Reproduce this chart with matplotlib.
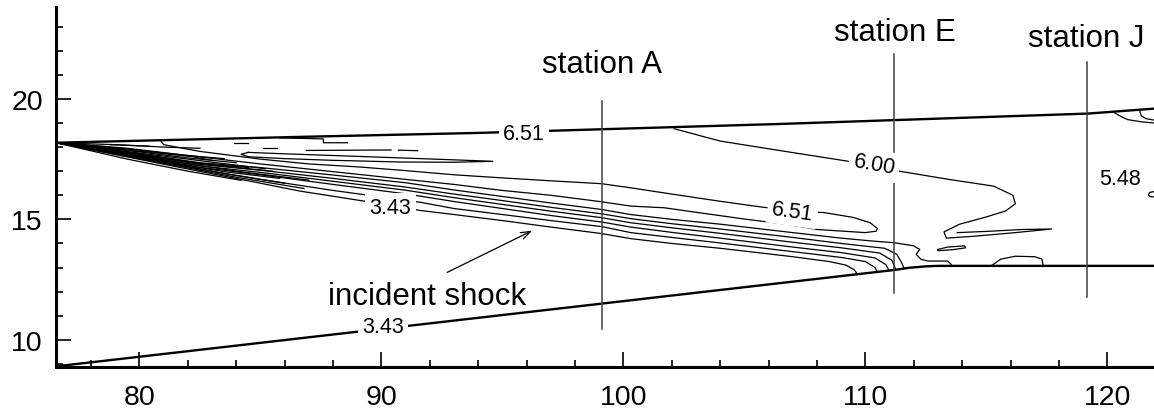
import matplotlib
matplotlib.use('Agg')
import matplotlib.pyplot as plt
from matplotlib.ticker import MultipleLocator

plt.rcParams['font.family'] = ['Liberation Sans', 'DejaVu Sans']

# leading edge of the cowl, every shock line starts here
le = (76.55, 18.18)

# walls (also drawn as the outer contour lines)
upper_wall = [le, (86.5, 18.42), (94.1, 18.59), (106.5, 18.96), (119.2, 19.39), (122.0, 19.6)]
lower_wall = [(76.55, 8.9), (94.92, 11.02), (111.2, 12.9), (111.8, 12.99), (112.5, 13.05),
              (113.0, 13.07), (122.0, 13.07)]

# survey stations
station_names = ['station A', 'station E', 'station J']
station_x = [99.1, 111.19, 119.17]
station_ybot = [10.44, 11.96, 11.78]
station_ytop = [19.9, 21.86, 21.53]
station_label_x = [99.1, 111.24, 119.12]
station_label_y = [21.13, 22.46, 22.18]

# tongue of the 6.51 contour (upper edge out, lower edge back)
tongue = [(80.85, 18.3), (81.0, 18.1), (82.5, 17.82), (85, 17.5), (87, 17.3), (89, 17.18),
          (90.8, 17.04), (93, 16.85), (95, 16.72), (97, 16.6), (99.1, 16.48), (100.3, 16.31),
          (102, 16.05), (104, 15.75), (105.8, 15.5), (107, 15.35), (108.3, 15.28), (109.5, 15.08),
          (110.2, 14.86), (110.5, 14.62), (110.45, 14.51), (110.0, 14.45), (108.0, 14.58),
          (106.8, 14.79), (105.1, 15.0), (103.1, 15.28), (101.7, 15.48), (100.3, 15.55),
          (99.1, 15.73), (97, 16.0), (95, 16.2), (93, 16.45), (90.8, 16.68), (88, 16.98),
          (85, 17.3), (82, 17.65), (79.5, 17.95), (77.5, 18.12), le]

# shock fan, top to bottom
shock_3 = [le, (78, 17.99), (80, 17.72), (82.5, 17.35), (85, 17.15), (88, 16.84), (91, 16.52),
           (93, 16.22), (95, 15.95), (97, 15.68), (99.1, 15.41), (100.3, 15.2), (102, 15.0),
           (104, 14.8), (107, 14.45), (109, 14.22), (110.3, 14.1), (111.2, 14.03), (112.0, 13.9),
           (112.25, 13.75), (112.1, 13.55), (112.3, 13.34), (112.6, 13.27), (113.4, 13.27),
           (113.55, 13.13), (113.55, 13.07)]
shock_4 = [le, (78, 17.97), (80, 17.68), (82.5, 17.28), (85, 17.04), (88, 16.7), (91, 16.34),
           (93, 16.05), (95, 15.78), (97, 15.5), (99.1, 15.23), (100.3, 15.03), (102, 14.82),
           (104, 14.6), (107, 14.25), (109, 14.0), (110.8, 13.8), (111.3, 13.55), (111.5, 13.2),
           (111.6, 12.97)]
shock_5 = [le, (78, 17.95), (80, 17.64), (82.5, 17.22), (85, 16.95), (88, 16.58), (91, 16.21),
           (93, 15.9), (95, 15.62), (97, 15.34), (99.1, 15.07), (100.3, 14.86), (102, 14.65),
           (104, 14.42), (107, 14.05), (109, 13.82), (110.6, 13.6), (111.1, 13.3), (111.27, 12.89)]
shock_6 = [le, (78, 17.93), (80, 17.6), (82.5, 17.16), (85, 16.85), (88, 16.45), (91, 16.06),
           (93, 15.74), (95, 15.45), (97, 15.16), (99.1, 14.89), (100.3, 14.68), (102, 14.46),
           (104, 14.22), (107, 13.85), (109, 13.62), (110.4, 13.4), (110.85, 13.12), (110.99, 12.86)]
shock_7 = [le, (78, 17.91), (80, 17.55), (82.5, 17.08), (85, 16.66), (88, 16.2), (91.6, 15.71),
           (93, 15.45), (95, 15.2), (97, 14.95), (99.1, 14.70), (100.3, 14.45), (102, 14.25),
           (104, 14.02), (107, 13.66), (109, 13.42), (110.0, 13.25), (110.4, 13.0), (110.5, 12.8)]
shock_8 = [le, (78, 17.89), (80, 17.49), (82.5, 16.99), (85, 16.5), (86.65, 16.17), (88, 15.96),
           (89.26, 15.76), (90.4, 15.58), (91.6, 15.37), (93, 15.2), (95, 14.95), (97, 14.68),
           (99.1, 14.41), (100.3, 14.2), (102, 14.0), (104, 13.8), (107, 13.45), (108.5, 13.25),
           (109.2, 13.1), (109.55, 12.9), (109.68, 12.71)]

# short lines packed near the leading edge
lead_1 = [le, (80, 17.52), (84, 16.75), (86.8, 16.28)]
lead_2 = [le, (80, 17.58), (83.5, 16.98), (85.8, 16.7)]
lead_3 = [le, (80, 17.62), (84, 17.0), (87, 16.63)]
lead_4 = [le, (80, 17.66), (83, 17.25), (85.5, 17.0)]
lead_5 = [le, (80, 17.7), (82.5, 17.32), (84.5, 17.15)]
lead_6 = [le, (80, 17.8), (82, 17.55), (84, 17.35)]
lead_7 = [le, (79.5, 17.92), (82, 17.65), (83.5, 17.52)]
lead_8 = [le, (79, 18.1), (81, 18.0), (82.5, 17.95)]
lead_9 = [le, (79.5, 17.5), (82, 17.0), (84.2, 16.62)]
lead_10 = [le, (80, 17.75), (82.8, 17.4), (85.2, 17.1)]
lead_11 = [le, (79.8, 17.85), (82.2, 17.6), (83.0, 17.45)]
lead_12 = [le, (80.5, 17.5), (83.5, 16.9), (86.0, 16.5)]

# broken pieces under the upper wall
dash_1 = [(78.8, 18.1), (80.4, 18.04)]
dash_2 = [(83.9, 18.15), (84.5, 18.15)]
dash_3 = [(85.8, 18.38), (87.6, 18.34), (87.6, 18.18), (88.6, 18.18)]
dash_4 = [(85.1, 17.98), (85.7, 17.98)]
dash_5 = [(86.9, 17.86), (90.4, 17.88)]
dash_6 = [(90.7, 17.87), (91.5, 17.85)]
sliver = [(84.5, 17.78), (86, 17.72), (88, 17.65), (90.8, 17.55), (93, 17.47), (94.6, 17.41),
          (93, 17.37), (90.8, 17.38), (88, 17.45), (86, 17.52), (84.5, 17.6), (84.2, 17.7),
          (84.5, 17.78)]

# 6.00 contour from the upper wall into the duct
line_600 = [(102.1, 18.76), (104, 18.25), (106.5, 17.85), (109.3, 17.41), (111.4, 17.0),
            (113.5, 16.65), (115.3, 16.38), (116.1, 16.0), (116.2, 15.65), (115.8, 15.35),
            (115.0, 15.1), (113.9, 14.8), (113.25, 14.48), (113.35, 14.22), (114.5, 14.3),
            (116.2, 14.45), (117.7, 14.6), (116.5, 14.58), (115.0, 14.5), (113.8, 14.45)]
loop_small = [(113.0, 13.75), (113.4, 13.85), (114.1, 13.9), (114.15, 13.82), (113.6, 13.74),
              (113.0, 13.7), (113.0, 13.75)]
bump = [(115.2, 13.07), (115.6, 13.35), (116.2, 13.47), (117.0, 13.45), (117.3, 13.35),
        (117.35, 13.07)]
corner_1 = [(120.3, 19.42), (120.6, 19.25), (120.84, 19.14), (121.4, 19.05), (121.93, 19.0)]
corner_2 = [(121.35, 19.47), (121.4, 19.3), (121.6, 19.18), (121.93, 19.12)]
edge_loop = [(121.93, 16.15), (121.75, 16.12), (121.7, 16.02), (121.75, 15.95), (121.93, 15.93)]

contour_lines = [tongue, shock_3, shock_4, shock_5, shock_6, shock_7, shock_8,
                 lead_1, lead_2, lead_3, lead_4, lead_5, lead_6, lead_7, lead_8,
                 lead_9, lead_10, lead_11, lead_12,
                 dash_1, dash_2, dash_3, dash_4, dash_5, dash_6, sliver,
                 line_600, loop_small, bump, corner_1, corner_2, edge_loop]

# contour level labels
level_text = ['6.51', '3.43', '3.43', '6.51', '6.00', '5.48']
level_x = [95.9, 90.06, 90.37, 106.99, 110.37, 120.52]
level_y = [18.55, 10.54, 15.48, 15.34, 17.28, 16.68]
level_rot = [0, 0, 0, -8, -10, 0]

fig = plt.figure(figsize=(11.54, 4.10), dpi=100)
ax = fig.add_axes([0.0485, 0.1017, 0.9515, 0.878])


def xy(pts):
    return [p[0] for p in pts], [p[1] for p in pts]


ax.plot(*xy(upper_wall), color='black', lw=1.7, solid_capstyle='butt')
ax.plot(*xy(lower_wall), color='black', lw=1.7, solid_capstyle='butt')
for line in contour_lines:
    ax.plot(*xy(line), color='black', lw=0.9)

for name, sx, y0, y1, lx, ly in zip(station_names, station_x, station_ybot, station_ytop,
                                     station_label_x, station_label_y):
    ax.plot([sx, sx], [y0, y1], color='#404040', lw=1.1)
    ax.text(lx, ly, name, fontsize=22.5, ha='center', va='baseline')

for txt, lx, ly, rot in zip(level_text, level_x, level_y, level_rot):
    ax.text(lx, ly, txt, fontsize=15.5, ha='center', va='center', rotation=rot,
            rotation_mode='anchor', zorder=5,
            bbox=dict(boxstyle='square,pad=0.2', facecolor='white', edgecolor='none'))

ax.text(87.81, 11.48, 'incident shock', fontsize=22.5, ha='left', va='baseline')
ax.annotate('', xy=(96.23, 14.53), xytext=(92.72, 12.8),
            arrowprops=dict(arrowstyle='->,head_length=0.7,head_width=0.25', lw=0.9,
                            color='black', shrinkA=0, shrinkB=0))

ax.set_xlim(76.55, 121.93)
ax.set_ylim(8.86, 23.8)
ax.spines['top'].set_visible(False)
ax.spines['right'].set_visible(False)
ax.spines['left'].set_linewidth(2.2)
ax.spines['bottom'].set_linewidth(2.2)
ax.xaxis.set_major_locator(MultipleLocator(10))
ax.xaxis.set_minor_locator(MultipleLocator(2))
ax.yaxis.set_major_locator(MultipleLocator(5))
ax.yaxis.set_minor_locator(MultipleLocator(1))
ax.tick_params(which='major', direction='in', length=11, width=1.2, labelsize=20.5)
ax.tick_params(which='minor', direction='in', length=5, width=1.2)
ax.tick_params(axis='x', which='major', pad=12)
ax.tick_params(axis='y', which='major', pad=9.5)

fig.savefig('out.png', dpi=100)
